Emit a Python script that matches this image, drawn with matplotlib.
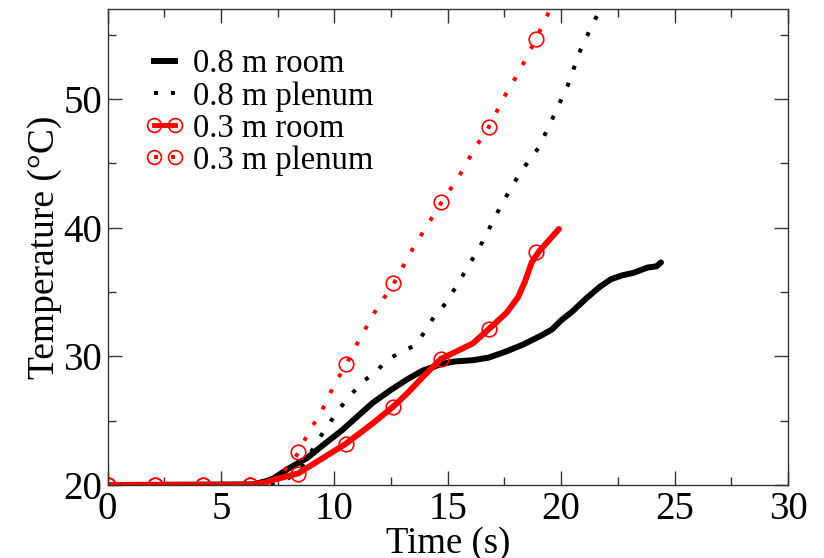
import matplotlib
matplotlib.use('Agg')
import matplotlib.pyplot as plt
from matplotlib.lines import Line2D
from matplotlib.ticker import MultipleLocator

plt.rcParams['font.family'] = ['Liberation Serif', 'DejaVu Serif']

# 0.8 m room
room08_t = [0, 6.4, 7.0, 7.3, 8.0, 8.8, 9.5, 10.3, 11.0, 11.7, 12.5, 13.2, 13.9, 14.4, 14.7,
            15.3, 16.1, 16.8, 17.6, 18.3, 19.1, 19.6, 20.0, 20.5, 21.1, 21.7, 22.2, 22.7,
            23.2, 23.8, 24.2, 24.4]
room08_T = [20, 20.05, 20.3, 20.5, 21.3, 22.1, 23.1, 24.2, 25.3, 26.4, 27.4, 28.2, 28.9, 29.2, 29.4,
            29.6, 29.7, 29.9, 30.4, 30.9, 31.6, 32.1, 32.8, 33.5, 34.5, 35.4, 36.0, 36.3,
            36.5, 36.9, 37.0, 37.3]

# 0.8 m plenum
plen08_t = [0, 6.5, 7.3, 7.8, 8.5, 9.4, 10.2, 10.6, 11.2, 11.8, 12.3, 13.0, 13.5, 13.9, 14.4,
            14.9, 15.5, 16.5, 17.4, 18.2, 19.0, 19.7, 20.3, 20.8, 21.3, 21.9]
plen08_T = [20, 20, 20.1, 20.3, 21.2, 23.8, 25.9, 26.7, 28.0, 28.7, 29.7, 30.4, 30.8, 31.7, 33.1,
            34.1, 35.8, 38.8, 41.9, 44.3, 46.2, 48.8, 51.1, 53.6, 55.5, 57.6]

# 0.3 m room
room03_t = [0, 6.3, 7.0, 7.3, 8.4, 9.5, 10.5, 11.7, 12.6, 13.2, 13.9, 14.7, 15.4, 16.1, 16.8,
            17.6, 18.1, 18.4, 18.7, 19.0, 19.4, 19.9]
room03_T = [20, 20, 20.2, 20.4, 20.9, 22.1, 23.2, 24.8, 26.1, 27.1, 28.4, 29.8, 30.4, 31.0, 32.1,
            33.4, 34.6, 35.8, 37.3, 38.1, 38.9, 39.9]

# 0.3 m plenum
plen03_t = [0, 6.3, 7.0, 7.5, 8.2, 8.4, 8.9, 9.4, 10.0, 10.5, 11.1, 11.8, 12.6, 13.5, 14.7,
            15.5, 16.2, 16.8, 17.5, 18.2, 18.9, 19.6]
plen03_T = [20, 20, 20.1, 20.6, 21.9, 22.5, 24.2, 25.6, 27.8, 29.3, 31.3, 33.5, 35.6, 38.5, 41.9,
            44.0, 46.2, 47.8, 50.2, 52.3, 54.7, 57.3]

# circle symbols on the 0.3 m curves
mark_t = [0, 2.1, 4.2, 6.3, 8.4, 10.5, 12.6, 14.7, 16.8, 18.9]
room03_mark = [20, 20, 20, 20, 20.85, 23.2, 26.1, 29.8, 32.1, 38.1]
plen03_mark = [20, 20, 20, 20, 22.6, 29.4, 35.7, 42.0, 47.8, 54.7]

labels = ['0.8 m room', '0.8 m plenum', '0.3 m room', '0.3 m plenum']

fig = plt.figure(figsize=(8.24, 5.58), dpi=100)
ax = fig.add_axes([0.1305, 0.1308, 0.9563 - 0.1305, 0.9839 - 0.1308])

lw = 4.3
dots = (0, (1, 3.5))
ax.plot(room08_t, room08_T, color='black', lw=lw, solid_capstyle='round')
ax.plot(plen08_t, plen08_T, color='black', lw=2.9, linestyle=dots)
ax.plot(room03_t, room03_T, color='red', lw=lw, solid_capstyle='round')
ax.plot(plen03_t, plen03_T, color='red', lw=2.9, linestyle=dots)
ax.plot(mark_t, room03_mark, linestyle='none', marker='o', ms=10.5, mfc='none', mec='red', mew=1.2)
ax.plot(mark_t, plen03_mark, linestyle='none', marker='o', ms=10.5, mfc='none', mec='red', mew=1.2)

ax.set_xlim(0, 30)
ax.set_ylim(20, 57)
ax.xaxis.set_major_locator(MultipleLocator(5))
ax.xaxis.set_minor_locator(MultipleLocator(2.5))
ax.yaxis.set_major_locator(MultipleLocator(10))
ax.yaxis.set_minor_locator(MultipleLocator(5))
ax.tick_params(which='both', direction='in', top=True, right=True, width=1, color='#333333')
ax.tick_params(which='major', length=10, labelsize=28, pad=4)
ax.tick_params(which='minor', length=6)
for s in ax.spines.values():
    s.set_linewidth(1)
    s.set_color('#333333')

ax.set_xlabel('Time (s)', fontsize=26.5, labelpad=-1)
ax.set_ylabel('Temperature (°C)', fontsize=27, labelpad=1)

handles = [
    Line2D([], [], color='black', lw=lw),
    Line2D([], [], color='black', lw=2.9, linestyle=(0, (1, 3.2))),
    Line2D([], [], color='red', lw=3.5, marker='o', ms=10, mfc='none', mec='red', mew=1.2),
    Line2D([], [], color='red', lw=2.9, linestyle=(0, (1, 3.2)), marker='o', ms=10, mfc='none',
           mec='red', mew=1.2),
]
ax.legend(handles, labels, loc='upper left', bbox_to_anchor=(144 / 824, 1 - 49 / 558),
          bbox_transform=fig.transFigure, frameon=False, fontsize=23.5, numpoints=2,
          handlelength=1.25, handletextpad=0.25, labelspacing=0.05, borderpad=0, borderaxespad=0)

plt.savefig('out.png', dpi=100)
